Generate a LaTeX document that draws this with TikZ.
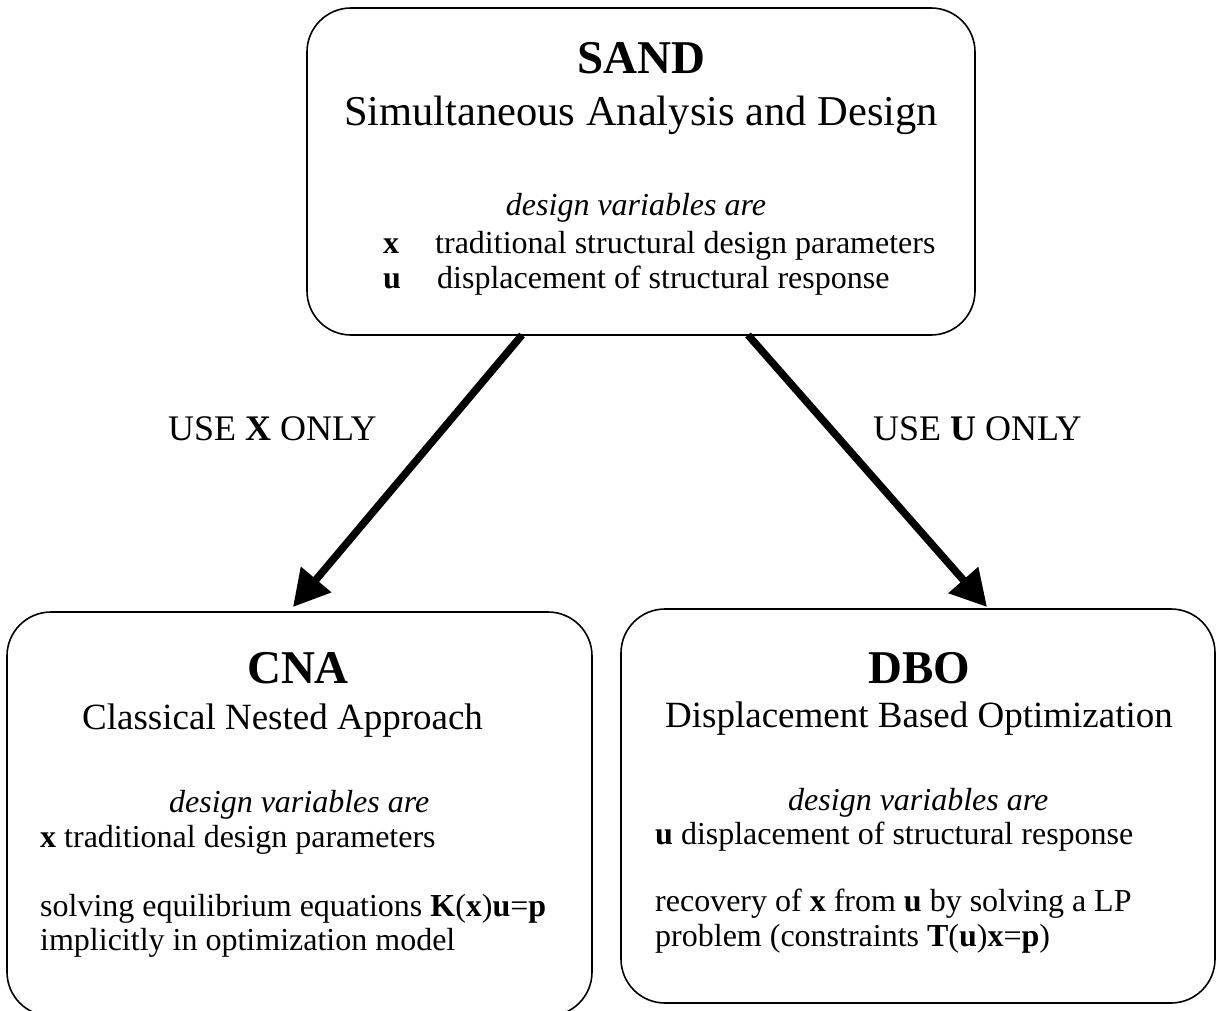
\documentclass[tikz,border=0pt]{standalone}
\usepackage{fontspec}
\setmainfont{Liberation Serif}
\usetikzlibrary{arrows.meta}
\begin{document}
\begin{tikzpicture}[x=1pt,y=-1pt,
  box/.style={draw, line width=1.6pt, rounded corners=44pt, inner sep=0pt, outer sep=0pt, anchor=north west},
  ttl/.style={font=\fontsize{47}{56}\selectfont\bfseries, inner sep=0pt},
  sub/.style={font=\fontsize{37}{44}\selectfont, inner sep=0pt},
  subbig/.style={font=\fontsize{42.5}{50}\selectfont, inner sep=0pt},
  bod/.style={font=\fontsize{32}{38}\selectfont, inner sep=0pt},
  lbl/.style={font=\fontsize{36}{43}\selectfont, inner sep=0pt},
  arr/.style={line width=7.5pt, -{Triangle[length=36pt,width=38pt]}}]
\useasboundingbox (0,0) rectangle (1217,1011);

% boxes
\node[box, minimum width=668pt, minimum height=327pt] (sand) at (307,8) {};
\node[box, minimum width=585pt, minimum height=404pt] (cna) at (7,612) {};
\node[box, minimum width=594pt, minimum height=394pt] (dbo) at (621,609) {};

% SAND text
\node[ttl, anchor=base] (sandt) at (641,74) {SAND};
\node[subbig, anchor=base] (sands) at (641,126) {Simultaneous Analysis and Design};
\node[bod, anchor=base] (sandv) at (636,215) {\itshape design variables are};
\node[bod, anchor=base west] (sandx) at (383,253) {\textbf{x}};
\node[bod, anchor=base west] (sandxt) at (435,253) {traditional structural design parameters};
\node[bod, anchor=base west] (sandu) at (383,288) {\textbf{u}};
\node[bod, anchor=base west] (sandut) at (437,288) {displacement of structural response};

% CNA text
\node[ttl, anchor=base] (cnat) at (298,683) {CNA};
\node[sub, anchor=base west] (cnas) at (82,729) {Classical Nested Approach};
\node[bod, anchor=base west] (cnav) at (169,812) {\itshape design variables are};
\node[bod, anchor=base west] (cnax) at (40,847) {\textbf{x} traditional design parameters};
\node[bod, anchor=base west] (cnae) at (40,916) {solving equilibrium equations \textbf{K}(\textbf{x})\textbf{u}=\textbf{p}};
\node[bod, anchor=base west] (cnai) at (40,950) {implicitly in optimization model};

% DBO text
\node[ttl, anchor=base] (dbot) at (919,683) {DBO};
\node[sub, anchor=base west] (dbos) at (665,727) {Displacement Based Optimization};
\node[bod, anchor=base west] (dbov) at (788,810) {\itshape design variables are};
\node[bod, anchor=base west] (dbou) at (655,844) {\textbf{u} displacement of structural response};
\node[bod, anchor=base west] (dbor) at (655,911) {recovery of \textbf{x} from \textbf{u} by solving a LP};
\node[bod, anchor=base west] (dbop) at (655,946) {problem (constraints \textbf{T}(\textbf{u})\textbf{x}=\textbf{p})};

% arrows
\coordinate (a1s) at (522,335);
\coordinate (a1e) at (293,607);
\coordinate (a2s) at (748,335);
\coordinate (a2e) at (987,607);
\draw[arr] (a1s) -- (a1e);
\draw[arr] (a2s) -- (a2e);

% labels
\node[lbl, anchor=base west] (lx) at (168,440) {USE \textbf{X} ONLY};
\node[lbl, anchor=base west] (lu) at (873,440) {USE \textbf{U} ONLY};
\end{tikzpicture}
\end{document}
